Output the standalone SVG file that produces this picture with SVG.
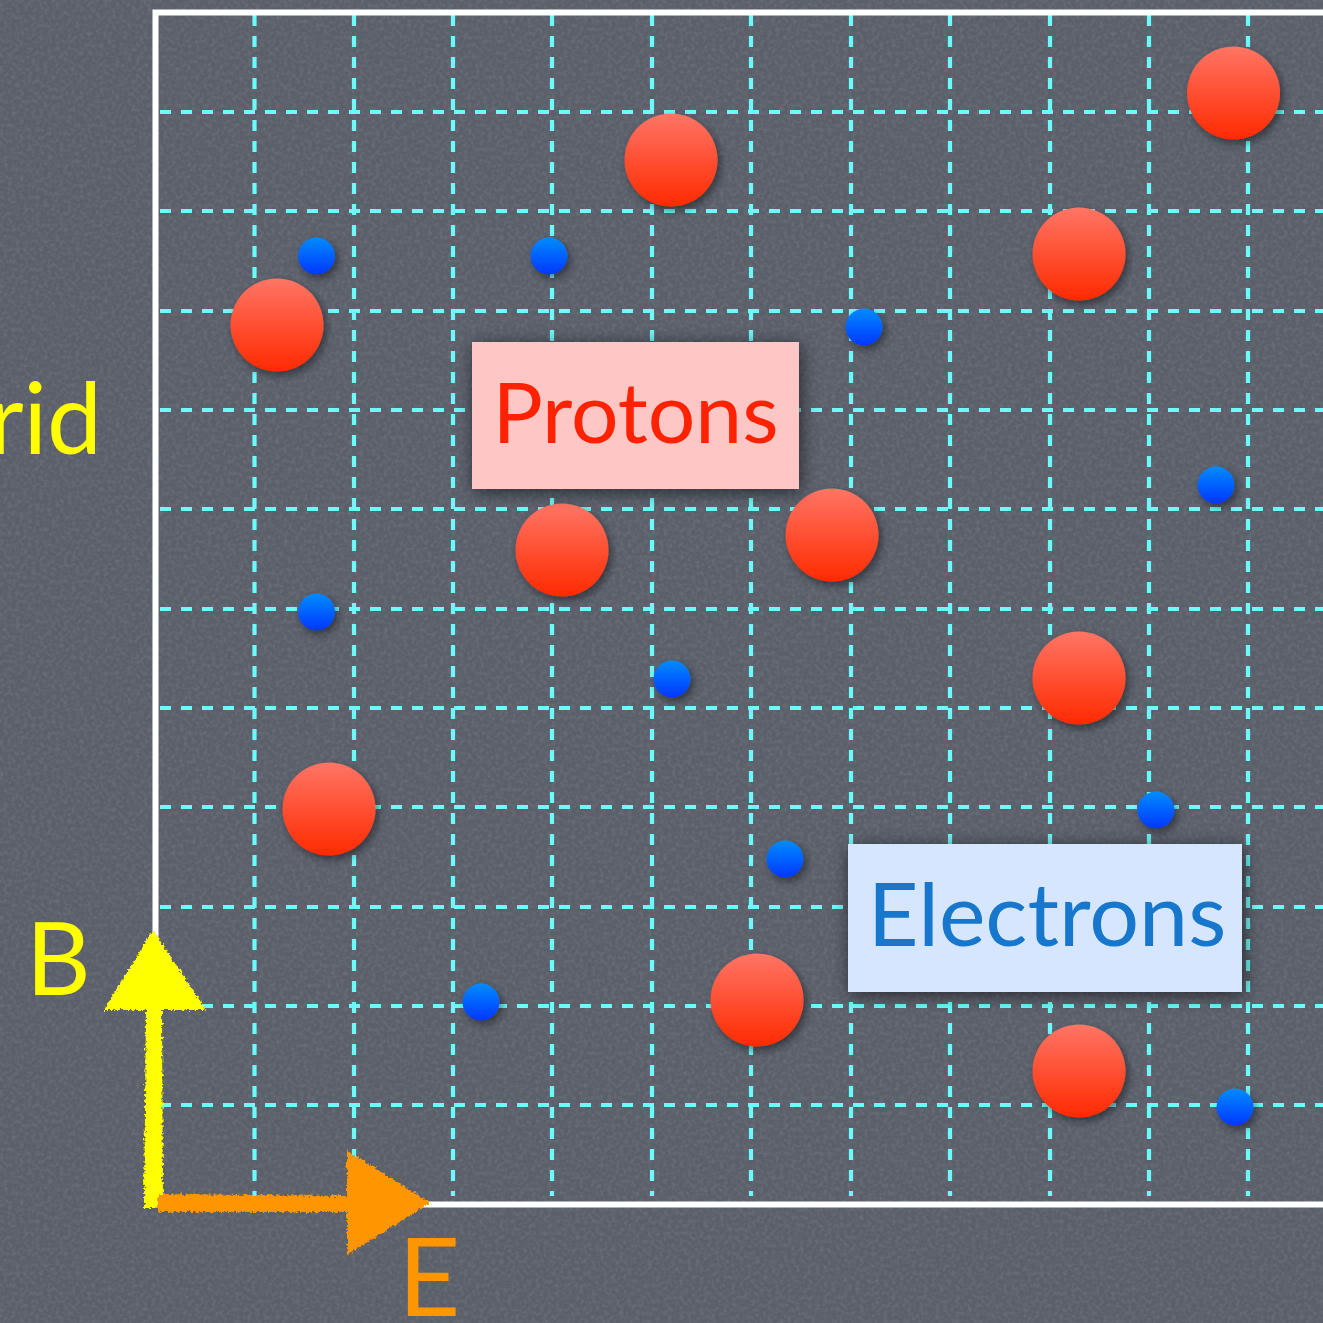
<svg xmlns="http://www.w3.org/2000/svg" width="1323" height="1323" viewBox="0 0 1323 1323">
<defs>
<style>
.grid line{stroke:#6DFAFA;stroke-width:4.2;stroke-dasharray:11 10;fill:none}
.frame{fill:none;stroke:#ffffff;stroke-width:6}
.proton{fill:url(#pg);filter:url(#sh)}
.electron{fill:url(#eg);filter:url(#sh)}
.lbl{font-family:Lato,"Noto Sans","Liberation Sans",sans-serif;font-weight:400}
</style>
<linearGradient id="pg" x1="0" y1="0" x2="0" y2="1">
<stop offset="0" stop-color="#FF7565"/>
<stop offset="1" stop-color="#FF2A00"/>
</linearGradient>
<linearGradient id="eg" x1="0" y1="0" x2="0" y2="1">
<stop offset="0" stop-color="#008CFF"/>
<stop offset="1" stop-color="#0036FF"/>
</linearGradient>
<filter id="sh" x="-50%" y="-50%" width="200%" height="200%">
<feDropShadow dx="3" dy="4" stdDeviation="4" flood-color="#000" flood-opacity="0.45"/>
</filter>
<filter id="bsh" x="-20%" y="-30%" width="140%" height="160%">
<feDropShadow dx="2" dy="3" stdDeviation="9" flood-color="#000" flood-opacity="0.6"/>
</filter>
<filter id="noise" x="0" y="0" width="100%" height="100%">
<feTurbulence type="fractalNoise" baseFrequency="0.25" numOctaves="2" seed="3"/>
<feColorMatrix type="matrix" values="0 0 0 0 0.5  0 0 0 0 0.5  0 0 0 0 0.55  0 0 0 0.9 -0.35"/>
</filter>
<filter id="chalk" x="-10%" y="-10%" width="120%" height="120%">
<feTurbulence type="fractalNoise" baseFrequency="0.35" numOctaves="2" seed="7" result="t"/>
<feDisplacementMap in="SourceGraphic" in2="t" scale="6" xChannelSelector="R" yChannelSelector="G"/>
</filter>
</defs>
<rect width="1323" height="1323" fill="#5A5F6A"/>
<rect width="1323" height="1323" filter="url(#noise)" opacity="0.35"/>
<g class="grid" id="grid">
<line x1="254.5" y1="15" x2="254.5" y2="1196"/>
<line x1="354" y1="15" x2="354" y2="1196"/>
<line x1="453" y1="15" x2="453" y2="1196"/>
<line x1="552" y1="15" x2="552" y2="1196"/>
<line x1="652" y1="15" x2="652" y2="1196"/>
<line x1="751" y1="15" x2="751" y2="1196"/>
<line x1="851" y1="15" x2="851" y2="1196"/>
<line x1="950" y1="15" x2="950" y2="1196"/>
<line x1="1050" y1="15" x2="1050" y2="1196"/>
<line x1="1149" y1="15" x2="1149" y2="1196"/>
<line x1="1248" y1="15" x2="1248" y2="1196"/>
<line x1="160" y1="112" x2="1323" y2="112"/>
<line x1="160" y1="211" x2="1323" y2="211"/>
<line x1="160" y1="311" x2="1323" y2="311"/>
<line x1="160" y1="410" x2="1323" y2="410"/>
<line x1="160" y1="509" x2="1323" y2="509"/>
<line x1="160" y1="609" x2="1323" y2="609"/>
<line x1="160" y1="708" x2="1323" y2="708"/>
<line x1="160" y1="807" x2="1323" y2="807"/>
<line x1="160" y1="907" x2="1323" y2="907"/>
<line x1="160" y1="1006" x2="1323" y2="1006"/>
<line x1="160" y1="1105" x2="1323" y2="1105"/>
</g>
<path class="frame" id="frame" d="M1330 12.5 H155.5 V1204.5 H1330"/>
<g id="protons">
<circle class="proton" cx="671" cy="160" r="46.5"/>
<circle class="proton" cx="1233.5" cy="93" r="46.5"/>
<circle class="proton" cx="1079" cy="254" r="46.5"/>
<circle class="proton" cx="277" cy="325" r="46.5"/>
<circle class="proton" cx="562" cy="550" r="46.5"/>
<circle class="proton" cx="832" cy="535" r="46.5"/>
<circle class="proton" cx="1079" cy="678" r="46.5"/>
<circle class="proton" cx="329" cy="809" r="46.5"/>
<circle class="proton" cx="757" cy="1000" r="46.5"/>
<circle class="proton" cx="1079" cy="1071" r="46.5"/>
</g>
<g id="electrons">
<circle class="electron" cx="316.5" cy="256" r="18.5"/>
<circle class="electron" cx="549" cy="256" r="18.5"/>
<circle class="electron" cx="864" cy="327" r="18.5"/>
<circle class="electron" cx="1216" cy="485" r="18.5"/>
<circle class="electron" cx="316.5" cy="612" r="18.5"/>
<circle class="electron" cx="672" cy="679" r="18.5"/>
<circle class="electron" cx="1156" cy="810" r="18.5"/>
<circle class="electron" cx="785" cy="859" r="18.5"/>
<circle class="electron" cx="481" cy="1002" r="18.5"/>
<circle class="electron" cx="1235" cy="1107" r="18.5"/>
</g>
<g id="protons-label">
<rect x="472" y="342" width="327" height="147" fill="#FFC6C6" filter="url(#bsh)"/>
<text class="lbl" x="635.5" y="443" font-size="84" fill="#FF2200" text-anchor="middle">Protons</text>
</g>
<g id="electrons-label">
<rect x="848" y="844" width="394" height="148" fill="#D6E6FF" filter="url(#bsh)"/>
<text class="lbl" x="1047" y="946" font-size="88" fill="#1677CC" text-anchor="middle">Electrons</text>
</g>
<g id="connectors">
<g id="arrow-B" fill="#FFFF00" filter="url(#chalk)">
<path d="M144 1208 L146 1010 L104 1010 L153 930 L206 1010 L162 1010 L163 1208 Z"/>
</g>
<g id="arrow-E" fill="#FF9500" filter="url(#chalk)">
<path d="M158 1194 L347 1196 L347 1150 L430 1203 L347 1255 L347 1212 L158 1212 Z"/>
</g>
</g>
<text class="lbl" x="102" y="454" font-size="98" fill="#FFFF00" text-anchor="end">rid</text>
<text class="lbl" x="26" y="995" font-size="100" fill="#FFFF00">B</text>
<text class="lbl" x="398" y="1316" font-size="108" fill="#FF9500">E</text>
</svg>
